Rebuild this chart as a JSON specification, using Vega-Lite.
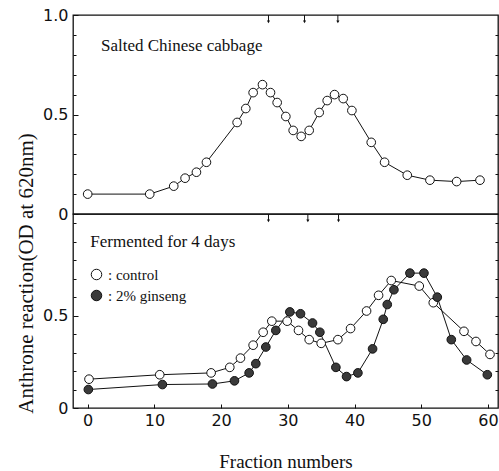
{
  "$schema": "https://vega.github.io/schema/vega-lite/v6.json",
  "background": "white",
  "padding": {"left": 14, "top": 6, "right": 2, "bottom": 5},
  "bounds": "flush",
  "spacing": 0,
  "config": {
    "view": {"stroke": "#111", "strokeWidth": 1.3},
    "axis": {"grid": false, "domain": false, "tickColor": "#111", "labelColor": "#111", "titleColor": "#111", "labelFont": "DejaVu Sans", "labelFontSize": 16, "titleFont": "Liberation Serif", "titleFontWeight": "normal", "labelOverlap": false, "labelBound": false, "labelFlush": false},
    "text": {"font": "Liberation Serif", "color": "#111"}
  },
  "datasets": {
    "top": [
      {"fraction": 0, "od": 0.10}, {"fraction": 9.3, "od": 0.10}, {"fraction": 12.9, "od": 0.14},
      {"fraction": 14.6, "od": 0.18}, {"fraction": 16.3, "od": 0.21}, {"fraction": 17.8, "od": 0.26},
      {"fraction": 22.4, "od": 0.46}, {"fraction": 23.7, "od": 0.53}, {"fraction": 24.8, "od": 0.61},
      {"fraction": 26.2, "od": 0.65}, {"fraction": 27.4, "od": 0.61}, {"fraction": 28.4, "od": 0.56},
      {"fraction": 29.7, "od": 0.49}, {"fraction": 30.8, "od": 0.42}, {"fraction": 32.0, "od": 0.39},
      {"fraction": 33.2, "od": 0.42}, {"fraction": 34.7, "od": 0.51}, {"fraction": 35.9, "od": 0.57},
      {"fraction": 37.0, "od": 0.60}, {"fraction": 38.3, "od": 0.58}, {"fraction": 39.6, "od": 0.52},
      {"fraction": 42.5, "od": 0.36}, {"fraction": 44.5, "od": 0.26}, {"fraction": 47.9, "od": 0.195},
      {"fraction": 51.3, "od": 0.17}, {"fraction": 55.3, "od": 0.163}, {"fraction": 58.8, "od": 0.17}
    ],
    "bottom": [
      {"series": "control", "fraction": 0.2, "od": 0.156}, {"series": "control", "fraction": 10.8, "od": 0.18},
      {"series": "control", "fraction": 18.5, "od": 0.19}, {"series": "control", "fraction": 21.3, "od": 0.22},
      {"series": "control", "fraction": 22.9, "od": 0.27}, {"series": "control", "fraction": 24.8, "od": 0.34},
      {"series": "control", "fraction": 26.3, "od": 0.41}, {"series": "control", "fraction": 27.6, "od": 0.47},
      {"series": "control", "fraction": 29.9, "od": 0.47}, {"series": "control", "fraction": 31.6, "od": 0.42},
      {"series": "control", "fraction": 33.2, "od": 0.37}, {"series": "control", "fraction": 35.0, "od": 0.35},
      {"series": "control", "fraction": 37.5, "od": 0.37}, {"series": "control", "fraction": 39.4, "od": 0.43},
      {"series": "control", "fraction": 41.8, "od": 0.525}, {"series": "control", "fraction": 43.6, "od": 0.61},
      {"series": "control", "fraction": 45.5, "od": 0.69}, {"series": "control", "fraction": 49.7, "od": 0.66},
      {"series": "control", "fraction": 51.8, "od": 0.57}, {"series": "control", "fraction": 56.4, "od": 0.415},
      {"series": "control", "fraction": 58.2, "od": 0.36}, {"series": "control", "fraction": 60.3, "od": 0.29},
      {"series": "2% ginseng", "fraction": 0.1, "od": 0.10}, {"series": "2% ginseng", "fraction": 11.2, "od": 0.127},
      {"series": "2% ginseng", "fraction": 18.7, "od": 0.13}, {"series": "2% ginseng", "fraction": 22.0, "od": 0.147},
      {"series": "2% ginseng", "fraction": 24.2, "od": 0.19}, {"series": "2% ginseng", "fraction": 25.2, "od": 0.24},
      {"series": "2% ginseng", "fraction": 26.7, "od": 0.33}, {"series": "2% ginseng", "fraction": 28.2, "od": 0.42},
      {"series": "2% ginseng", "fraction": 30.3, "od": 0.52}, {"series": "2% ginseng", "fraction": 31.9, "od": 0.51},
      {"series": "2% ginseng", "fraction": 33.7, "od": 0.46}, {"series": "2% ginseng", "fraction": 34.8, "od": 0.41},
      {"series": "2% ginseng", "fraction": 37.2, "od": 0.22}, {"series": "2% ginseng", "fraction": 38.8, "od": 0.17},
      {"series": "2% ginseng", "fraction": 40.5, "od": 0.19}, {"series": "2% ginseng", "fraction": 42.7, "od": 0.32},
      {"series": "2% ginseng", "fraction": 44.3, "od": 0.48}, {"series": "2% ginseng", "fraction": 44.9, "od": 0.56},
      {"series": "2% ginseng", "fraction": 45.9, "od": 0.64}, {"series": "2% ginseng", "fraction": 48.3, "od": 0.73},
      {"series": "2% ginseng", "fraction": 50.4, "od": 0.73}, {"series": "2% ginseng", "fraction": 52.4, "od": 0.60},
      {"series": "2% ginseng", "fraction": 54.5, "od": 0.37}, {"series": "2% ginseng", "fraction": 56.8, "od": 0.26},
      {"series": "2% ginseng", "fraction": 59.9, "od": 0.18}
    ],
    "arrowsTop": [{"fraction": 27.1, "od": 1.0, "od2": 0.965}, {"fraction": 32.5, "od": 1.0, "od2": 0.965}, {"fraction": 37.5, "od": 1.0, "od2": 0.965}],
    "arrowsBottom": [{"fraction": 27.1, "od": 1.05, "od2": 1.013}, {"fraction": 33.0, "od": 1.05, "od2": 1.013}, {"fraction": 37.6, "od": 1.05, "od2": 1.013}],
    "labelTop": [{"fraction": 2.0, "od": 0.82, "label": "Salted Chinese cabbage"}],
    "labelBottom": [{"fraction": 0.4, "od": 0.87, "label": "Fermented for 4 days"}]
  },
  "vconcat": [
    {
      "width": 425,
      "height": 199,
      "resolve": {"axis": {"y": "independent"}},
      "layer": [
        {
          "data": {"name": "top"},
          "mark": {"type": "line", "color": "#111", "strokeWidth": 1},
          "encoding": {
            "x": {"field": "fraction", "type": "quantitative", "scale": {"domain": [-2.2, 61.5], "nice": false, "zero": false}, "axis": null},
            "y": {"field": "od", "type": "quantitative", "scale": {"domain": [0, 1], "nice": false},
              "axis": {"orient": "left", "values": [0.1, 0.2, 0.3, 0.4, 0.6, 0.7, 0.8, 0.9], "labels": false, "tickSize": -3, "title": null}}
          }
        },
        {
          "data": {"name": "top"},
          "mark": {"type": "point", "shape": "circle", "filled": true, "fill": "white", "stroke": "#111", "strokeWidth": 1, "size": 75, "opacity": 1},
          "encoding": {
            "x": {"field": "fraction", "type": "quantitative"},
            "y": {"field": "od", "type": "quantitative",
              "axis": {"orient": "left", "values": [0, 0.5, 1], "format": ".1f",
                "labelExpr": "datum.value == 0 ? '0' : datum.label",
                "tickSize": -5, "labelPadding": 10,
                "title": "Anthrone reaction(OD at 620nm)", "titleFontSize": 21, "titleX": -47, "titleY": 258, "titleAngle": -90, "titleAlign": "center", "titleBaseline": "middle"}}
          }
        },
        {
          "data": {"name": "arrowsTop"},
          "mark": {"type": "rule", "color": "#111", "strokeWidth": 1},
          "encoding": {
            "x": {"field": "fraction", "type": "quantitative"},
            "y": {"field": "od", "type": "quantitative",
              "axis": {"orient": "right", "values": [0.1, 0.2, 0.3, 0.4, 0.5, 0.6, 0.7, 0.8, 0.9], "labels": false, "tickSize": -3, "title": null}},
            "y2": {"field": "od2"}
          }
        },
        {
          "data": {"name": "arrowsTop"},
          "mark": {"type": "point", "shape": "triangle-down", "filled": true, "color": "#111", "size": 10, "opacity": 1},
          "encoding": {
            "x": {"field": "fraction", "type": "quantitative"},
            "y": {"field": "od2", "type": "quantitative", "axis": null}
          }
        },
        {
          "data": {"name": "labelTop"},
          "mark": {"type": "text", "align": "left", "baseline": "alphabetic", "fontSize": 17},
          "encoding": {
            "x": {"field": "fraction", "type": "quantitative"},
            "y": {"field": "od", "type": "quantitative", "axis": null},
            "text": {"field": "label"}
          }
        }
      ]
    },
    {
      "width": 425,
      "height": 194,
      "resolve": {"axis": {"y": "independent"}},
      "layer": [
        {
          "data": {"name": "bottom"},
          "mark": {"type": "line", "color": "#111", "strokeWidth": 1},
          "encoding": {
            "x": {"field": "fraction", "type": "quantitative", "scale": {"domain": [-2.2, 61.5], "nice": false, "zero": false},
              "axis": {"values": [0, 10, 20, 30, 40, 50, 60], "tickSize": -4, "labelPadding": 8, "title": "Fraction numbers", "titleFontSize": 19, "titlePadding": 24}},
            "y": {"field": "od", "type": "quantitative", "scale": {"domain": [0, 1.05], "nice": false},
              "axis": {"orient": "left", "values": [0.1, 0.2, 0.3, 0.4, 0.6, 0.7, 0.8, 0.9, 1.0], "labels": false, "tickSize": -3, "title": null}},
            "detail": {"field": "series"}
          }
        },
        {
          "data": {"name": "bottom"},
          "mark": {"type": "point", "shape": "circle", "filled": true, "stroke": "#111", "strokeWidth": 1, "size": 75, "opacity": 1},
          "encoding": {
            "x": {"field": "fraction", "type": "quantitative"},
            "y": {"field": "od", "type": "quantitative",
              "axis": {"orient": "left", "values": [0, 0.5], "format": ".1f",
                "labelExpr": "datum.value == 0 ? '0' : datum.label",
                "tickSize": -5, "labelPadding": 10, "title": null}},
            "fill": {"field": "series", "type": "nominal",
              "scale": {"domain": ["control", "2% ginseng"], "range": ["white", "#3a3a3a"]},
              "legend": {"orient": "none", "legendX": 16, "legendY": 252, "title": null, "padding": 0,
                "labelExpr": "': ' + datum.label", "labelFont": "Liberation Serif", "labelFontSize": 15, "labelColor": "#111",
                "symbolSize": 110, "symbolStrokeColor": "#111", "symbolStrokeWidth": 1, "rowPadding": 5, "labelOffset": 4}}
          }
        },
        {
          "data": {"name": "arrowsBottom"},
          "mark": {"type": "rule", "color": "#111", "strokeWidth": 1},
          "encoding": {
            "x": {"field": "fraction", "type": "quantitative"},
            "y": {"field": "od", "type": "quantitative",
              "axis": {"orient": "right", "values": [0.1, 0.2, 0.3, 0.4, 0.5, 0.6, 0.7, 0.8, 0.9, 1.0], "labels": false, "tickSize": -3, "title": null}},
            "y2": {"field": "od2"}
          }
        },
        {
          "data": {"name": "arrowsBottom"},
          "mark": {"type": "point", "shape": "triangle-down", "filled": true, "color": "#111", "size": 10, "opacity": 1},
          "encoding": {
            "x": {"field": "fraction", "type": "quantitative"},
            "y": {"field": "od2", "type": "quantitative", "axis": null}
          }
        },
        {
          "data": {"name": "labelBottom"},
          "mark": {"type": "text", "align": "left", "baseline": "alphabetic", "fontSize": 17},
          "encoding": {
            "x": {"field": "fraction", "type": "quantitative"},
            "y": {"field": "od", "type": "quantitative", "axis": null},
            "text": {"field": "label"}
          }
        }
      ]
    }
  ]
}
